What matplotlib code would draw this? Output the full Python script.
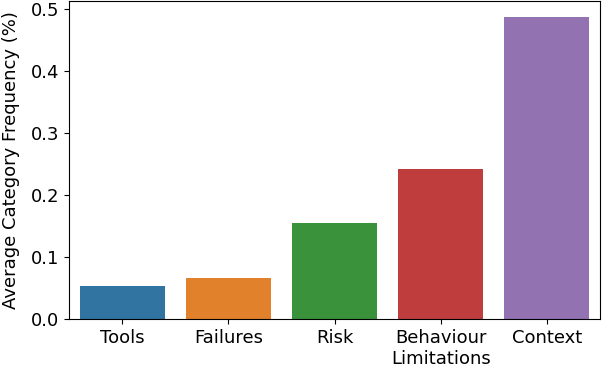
import matplotlib
matplotlib.use('Agg')
import matplotlib.pyplot as plt
import seaborn as sns
import pandas as pd

categories = ['Tools', 'Failures', 'Risk', 'Behaviour\nLimitations', 'Context']
frequency = [0.053, 0.066, 0.155, 0.242, 0.487]

df = pd.DataFrame({'category': categories, 'frequency': frequency})

plt.rcParams['font.size'] = 13
fig, ax = plt.subplots(figsize=(6.02, 3.68), dpi=100)
sns.barplot(data=df, x='category', y='frequency', hue='category', palette='tab10',
            saturation=0.75, legend=False, ax=ax)
ax.set_xlabel('')
ax.set_ylabel('Average Category Frequency (%)', labelpad=8)
ax.set_yticks([0.0, 0.1, 0.2, 0.3, 0.4, 0.5])
ax.tick_params(axis='x', pad=3.5)
fig.subplots_adjust(left=0.1146, right=0.9967, top=0.996, bottom=0.1332)
fig.savefig('out.png', dpi=100)
